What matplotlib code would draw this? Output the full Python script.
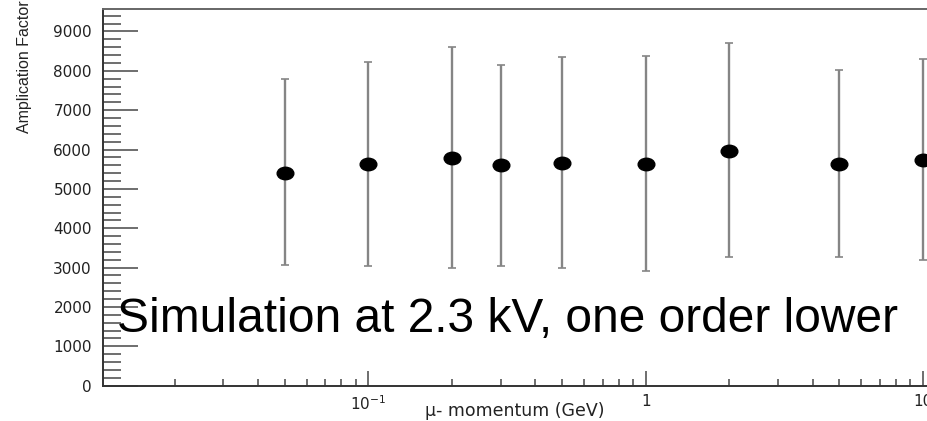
import numpy as np
import matplotlib
matplotlib.use("Agg")
import matplotlib.pyplot as plt
from matplotlib.path import Path
from matplotlib.transforms import Affine2D
from matplotlib.ticker import FixedLocator, MultipleLocator, NullFormatter

plt.rcParams['font.family'] = ['DejaVu Sans']
plt.rcParams['mathtext.fontset'] = 'dejavusans'

# muon momentum (GeV) and amplification factor with asymmetric errors
momentum = [0.05, 0.1, 0.2, 0.3, 0.5, 1, 2, 5, 10]
gain = [5410, 5630, 5780, 5600, 5660, 5630, 5975, 5635, 5730]
gain_hi = [7800, 8220, 8600, 8140, 8340, 8370, 8700, 8010, 8290]
gain_lo = [3060, 3050, 2980, 3050, 2980, 2910, 3270, 3270, 3190]

xtick_vals = [0.1, 1, 10]
xtick_labels = ['$10^{-1}$', '1', '10']

gain = np.array(gain)
yerr = [gain - np.array(gain_lo), np.array(gain_hi) - gain]

fig = plt.figure(figsize=(9.28, 4.21), dpi=100)
# axes runs past the right edge, the original image is cropped there
ax = fig.add_axes([103 / 928, 35.3 / 421, 897 / 928, 376.7 / 421])

# slightly flattened dot, like the ROOT marker in the picture
ellipse = Path.unit_circle().transformed(Affine2D().scale(1.0, 0.75))

ax.errorbar(momentum, gain, yerr=yerr, fmt='none', ecolor='#858585',
            elinewidth=1.7, capsize=3, capthick=1.2, zorder=2)
ax.plot(momentum, gain, linestyle='none', marker=ellipse, markersize=12,
        color='black', zorder=3)

ax.set_xscale('log')
ax.set_xlim(10 ** -1.957, 10 ** 1.278)
ax.set_ylim(0, 9570)

ax.xaxis.set_major_locator(FixedLocator(xtick_vals))
ax.set_xticklabels(xtick_labels)
ax.xaxis.set_minor_formatter(NullFormatter())
ax.yaxis.set_major_locator(MultipleLocator(1000))
ax.yaxis.set_minor_locator(MultipleLocator(200))

ax.tick_params(axis='both', which='both', direction='in', colors='#555555',
               labelcolor='#222222', labelsize=11, width=1.2)
ax.tick_params(axis='y', which='major', length=25, pad=8)
ax.tick_params(axis='y', which='minor', length=13)
ax.tick_params(axis='x', which='major', length=11, pad=6)
ax.tick_params(axis='x', which='minor', length=5)

for side in ['left', 'bottom', 'top']:
    ax.spines[side].set_color('#333333')
    ax.spines[side].set_linewidth(1.4)
ax.spines['top'].set_color('#666666')

fig.text(25 / 928, 1 - 67 / 421, 'Amplication Factor', rotation=90,
         ha='center', va='center', fontsize=11.5,
         family=['Liberation Sans', 'DejaVu Sans'], color='#222222')
fig.text(515 / 928, 1 - 416 / 421, '\u03bc- momentum (GeV)', ha='center',
         va='baseline', fontsize=12.5, color='#222222')

ax.text(117 / 928, 1 - 332 / 421, 'Simulation at 2.3 kV, one order lower',
        transform=fig.transFigure, fontsize=34.5, color='black',
        family=['Liberation Sans', 'DejaVu Sans'], ha='left', va='baseline')

fig.savefig('out.png', dpi=100)
